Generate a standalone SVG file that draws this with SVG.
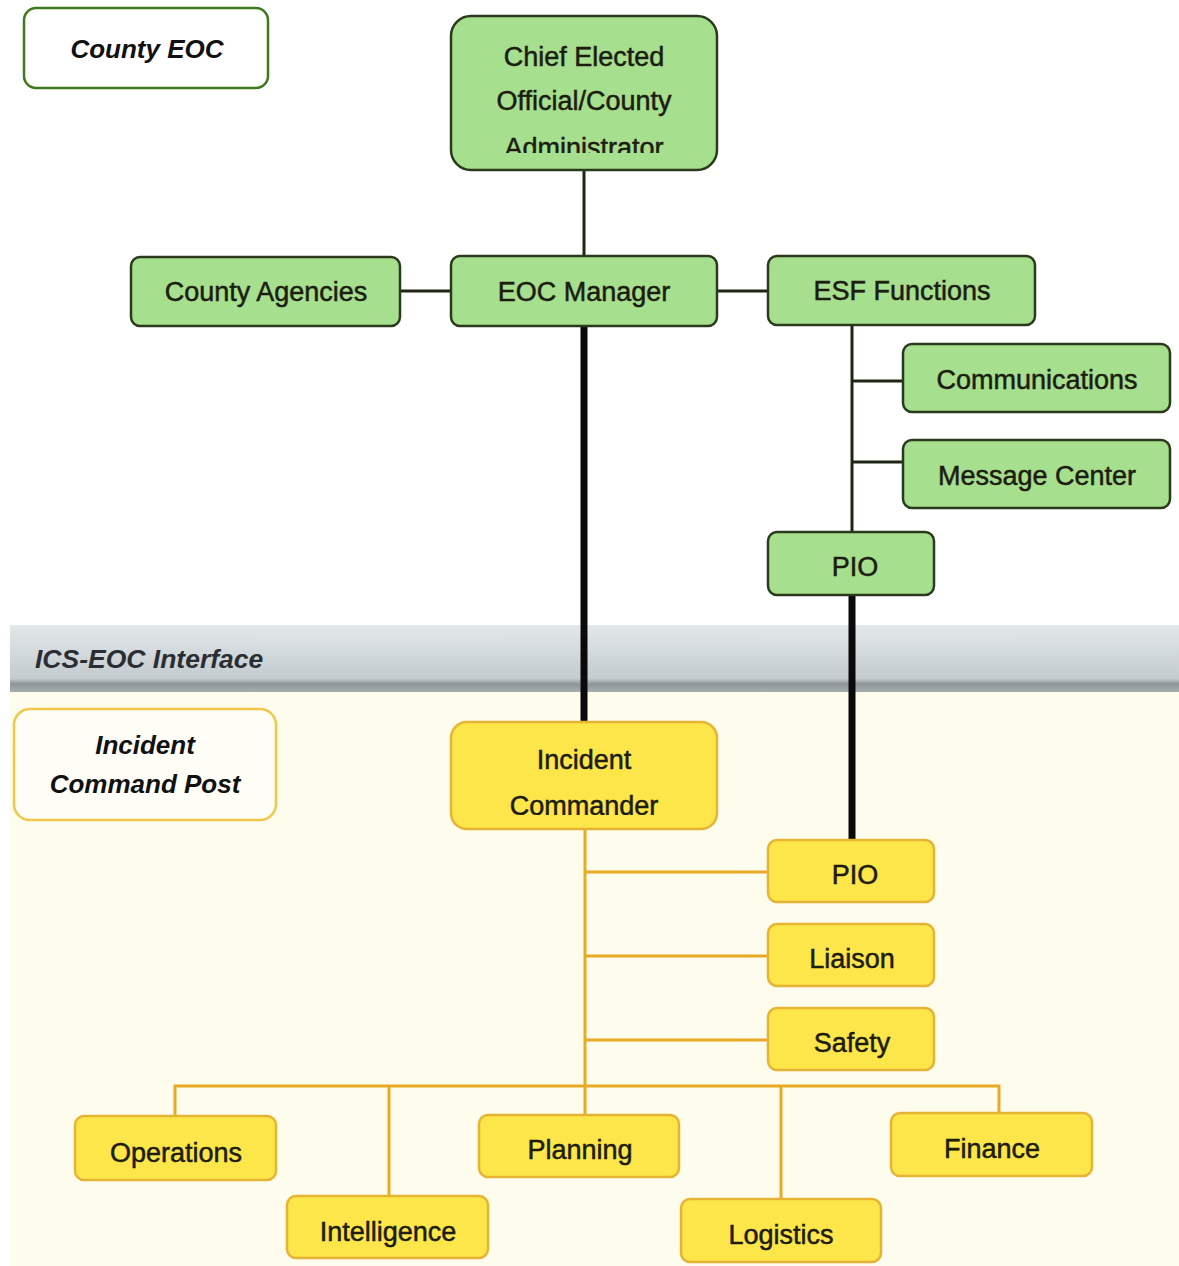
<svg xmlns="http://www.w3.org/2000/svg" width="1179" height="1266" viewBox="0 0 1179 1266">
<defs>
<style>
.t{font-family:"Liberation Sans",Arial,sans-serif;font-size:27px;fill:#1c1c10;stroke:#1c1c10;stroke-width:0.5;text-anchor:middle}
.h{font-family:"Liberation Sans",Arial,sans-serif;font-size:26px;font-weight:bold;font-style:italic;fill:#111;text-anchor:middle}
.g{fill:#a6df8e;stroke:#2b3a1c;stroke-width:2.5}
.y{fill:#fde64a;stroke:#e6b434;stroke-width:2.5}
.dk{stroke:#1e2616;stroke-width:3;fill:none}
.bk{stroke:#0a0a0a;stroke-width:7;fill:none}
.yl{stroke:#e8aa22;stroke-width:3;fill:none}
</style>
<linearGradient id="band" x1="0" y1="0" x2="0" y2="1">
<stop offset="0" stop-color="#e3e8ea"/>
<stop offset="0.8" stop-color="#c3cbcf"/>
<stop offset="0.88" stop-color="#8d9599"/>
<stop offset="1" stop-color="#a7aeb1"/>
</linearGradient>
<clipPath id="c1"><rect x="451" y="16" width="266" height="137"/></clipPath>
<clipPath id="c2"><rect x="451" y="722" width="266" height="93"/></clipPath>
</defs>
<rect width="1179" height="1266" fill="#ffffff"/>
<rect x="10" y="690" width="1169" height="576" fill="#fefcec"/>
<rect id="band-rect" x="10" y="625" width="1169" height="67" fill="url(#band)"/>
<text x="35" y="668" font-family="Liberation Sans, Arial, sans-serif" font-size="26.5" font-weight="bold" font-style="italic" fill="#2a2e33">ICS-EOC Interface</text>

<g id="connectors">
<path class="dk" d="M584 170V256"/>
<path class="dk" d="M400 291H451M717 291H768"/>
<path class="dk" d="M852 325V532M852 381H903M852 462H903"/>
<path class="bk" d="M584 326V722"/>
<path class="bk" d="M852 595V840"/>
<path class="yl" d="M585 829V1115M585 872H768M585 956H768M585 1040H768"/>
<path class="yl" d="M175 1116V1086H999V1113M389 1086V1196M781 1086V1199"/>
</g>

<g id="county-eoc"><rect x="24" y="8" width="244" height="80" rx="12" fill="#fff" stroke="#3c7a1e" stroke-width="2.5"/><text class="h" x="147" y="58">County EOC</text></g>
<g id="chief"><rect class="g" x="451" y="16" width="266" height="154" rx="20"/><g clip-path="url(#c1)"><text class="t" x="584" y="66">Chief Elected</text><text class="t" x="584" y="110">Official/County</text><text class="t" x="584" y="157">Administrator</text></g></g>
<g id="county-agencies"><rect class="g" x="131" y="257" width="269" height="69" rx="9"/><text class="t" x="266" y="301">County Agencies</text></g>
<g id="eoc-manager"><rect class="g" x="451" y="256" width="266" height="70" rx="9"/><text class="t" x="584" y="301">EOC Manager</text></g>
<g id="esf"><rect class="g" x="768" y="256" width="267" height="69" rx="9"/><text class="t" x="902" y="300">ESF Functions</text></g>
<g id="communications"><rect class="g" x="903" y="344" width="267" height="68" rx="9"/><text class="t" x="1037" y="389">Communications</text></g>
<g id="message-center"><rect class="g" x="903" y="440" width="267" height="68" rx="9"/><text class="t" x="1037" y="485">Message Center</text></g>
<g id="pio-eoc"><rect class="g" x="768" y="532" width="166" height="63" rx="9"/><text class="t" x="855" y="576">PIO</text></g>

<g id="icp"><rect x="14" y="709" width="262" height="111" rx="16" fill="#fffef6" stroke="#f2c64a" stroke-width="2.5"/><text class="h" x="145" y="754" font-size="27">Incident</text><text class="h" x="145" y="793" font-size="27">Command Post</text></g>
<g id="incident-commander"><rect class="y" x="451" y="722" width="266" height="107" rx="16"/><g clip-path="url(#c2)"><text class="t" x="584" y="769">Incident</text><text class="t" x="584" y="815">Commander</text></g></g>
<g id="pio-ics"><rect class="y" x="768" y="840" width="166" height="62" rx="9"/><text class="t" x="855" y="884">PIO</text></g>
<g id="liaison"><rect class="y" x="768" y="924" width="166" height="62" rx="9"/><text class="t" x="852" y="968">Liaison</text></g>
<g id="safety"><rect class="y" x="768" y="1008" width="166" height="62" rx="9"/><text class="t" x="852" y="1052">Safety</text></g>
<g id="operations"><rect class="y" x="75" y="1116" width="201" height="64" rx="9"/><text class="t" x="176" y="1162">Operations</text></g>
<g id="intelligence"><rect class="y" x="287" y="1196" width="201" height="62" rx="9"/><text class="t" x="388" y="1241">Intelligence</text></g>
<g id="planning"><rect class="y" x="479" y="1115" width="200" height="62" rx="9"/><text class="t" x="580" y="1159">Planning</text></g>
<g id="logistics"><rect class="y" x="681" y="1199" width="200" height="63" rx="9"/><text class="t" x="781" y="1244">Logistics</text></g>
<g id="finance"><rect class="y" x="891" y="1113" width="201" height="63" rx="9"/><text class="t" x="992" y="1158">Finance</text></g>
</svg>
